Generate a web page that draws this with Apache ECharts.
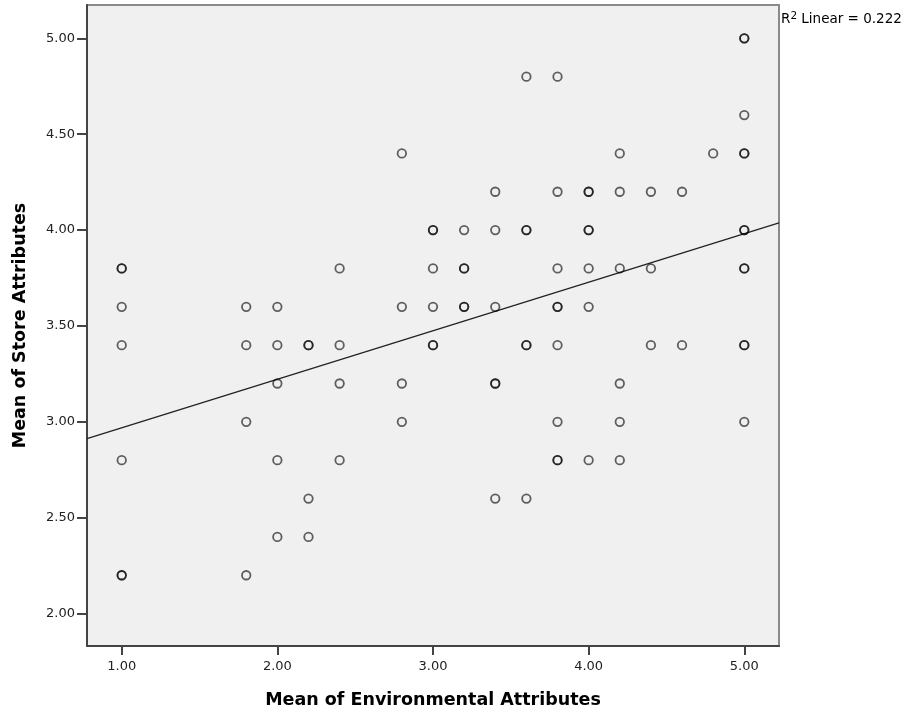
<!DOCTYPE html>
<html>
<head>
<meta charset="utf-8">
<script src="https://cdn.jsdelivr.net/npm/echarts@6/dist/echarts.min.js"></script>
<style>html,body{margin:0;padding:0;background:#fff;}#c{width:908px;height:717px;}</style>
</head>
<body>
<div id="c"></div>
<script>
// Mean of Environmental Attributes (x) and Mean of Store Attributes (y); repeated pairs are overlapping cases
const envMean = [
  1.0,1.0,1.0,1.0,1.0,1.0,1.0,
  1.8,1.8,1.8,1.8,
  2.0,2.0,2.0,2.0,2.0,
  2.2,2.2,2.2,2.2,
  2.4,2.4,2.4,2.4,
  2.8,2.8,2.8,2.8,
  3.0,3.0,3.0,3.0,3.0,3.0,
  3.2,3.2,3.2,3.2,3.2,
  3.4,3.4,3.4,3.4,3.4,3.4,
  3.6,3.6,3.6,3.6,3.6,3.6,
  3.8,3.8,3.8,3.8,3.8,3.8,3.8,3.8,3.8,
  4.0,4.0,4.0,4.0,4.0,4.0,4.0,
  4.2,4.2,4.2,4.2,4.2,4.2,
  4.4,4.4,4.4,
  4.6,4.6,
  4.8,
  5.0,5.0,5.0,5.0,5.0,5.0,5.0,5.0,5.0,5.0,5.0,5.0
];
const storeMean = [
  3.8,3.8,3.6,3.4,2.8,2.2,2.2,
  3.6,3.4,3.0,2.2,
  3.6,3.4,3.2,2.8,2.4,
  3.4,3.4,2.6,2.4,
  3.8,3.4,3.2,2.8,
  4.4,3.6,3.2,3.0,
  4.0,4.0,3.8,3.6,3.4,3.4,
  4.0,3.8,3.8,3.6,3.6,
  4.2,4.0,3.6,3.2,3.2,2.6,
  4.8,4.0,4.0,3.4,3.4,2.6,
  4.8,4.2,3.8,3.6,3.6,3.4,3.0,2.8,2.8,
  4.2,4.2,4.0,4.0,3.8,3.6,2.8,
  4.4,4.2,3.8,3.2,3.0,2.8,
  4.2,3.8,3.4,
  4.2,3.4,
  4.4,
  5.0,5.0,4.6,4.4,4.4,4.0,4.0,3.8,3.8,3.4,3.4,3.0
];
const xTicks = [1, 2, 3, 4, 5];
const yTicks = [2.0, 2.5, 3.0, 3.5, 4.0, 4.5, 5.0];
const xRange = [0.777, 5.223];
const yRange = [1.831, 5.174];
// Fitted linear regression
const fitIntercept = 2.716;
const fitSlope = 0.253;
const r2Label = '0.222';

const points = envMean.map((x, i) => [x, storeMean[i]]);
const fitLine = xRange.map(x => [x, fitIntercept + fitSlope * x]);

const FONT = '"DejaVu Sans", Verdana, sans-serif';
const chart = echarts.init(document.getElementById('c'), null, {renderer: 'canvas'});
chart.setOption({
  animation: false,
  grid: {
    left: 87, top: 5, right: 129, bottom: 71,
    show: true, backgroundColor: '#f0f0f0',
    borderColor: '#8a8a8a', borderWidth: 2
  },
  xAxis: {
    type: 'value', min: xRange[0], max: xRange[1],
    name: 'Mean of Environmental Attributes',
    nameLocation: 'middle', nameGap: 45,
    nameTextStyle: {fontFamily: FONT, fontWeight: 'bold', fontSize: 17.5, color: '#000', verticalAlign: 'top'},
    axisLine: {show: true, onZero: false, lineStyle: {color: '#444', width: 2}},
    axisTick: {show: true, customValues: xTicks, length: 9, lineStyle: {color: '#444', width: 2}},
    axisLabel: {customValues: xTicks, margin: 14, fontFamily: FONT, fontSize: 13, color: '#222',
      formatter: v => Number(v).toFixed(2)},
    splitLine: {show: false}
  },
  yAxis: {
    type: 'value', min: yRange[0], max: yRange[1],
    name: 'Mean of Store Attributes',
    nameLocation: 'middle', nameGap: 58,
    nameTextStyle: {fontFamily: FONT, fontWeight: 'bold', fontSize: 17.5, color: '#000'},
    axisLine: {show: true, onZero: false, lineStyle: {color: '#444', width: 2}},
    axisTick: {show: true, customValues: yTicks, length: 10, lineStyle: {color: '#444', width: 2}},
    axisLabel: {customValues: yTicks, margin: 12, fontFamily: FONT, fontSize: 13, color: '#222',
      formatter: v => Number(v).toFixed(2)},
    splitLine: {show: false}
  },
  graphic: [{
    type: 'text', left: 781, top: 11, silent: true,
    style: {
      text: 'R{sup|2} Linear = ' + r2Label,
      font: '13.5px ' + FONT, fill: '#000',
      rich: {sup: {fontSize: 10.5, verticalAlign: 'top', padding: [0, 0, 5, 0], fontFamily: FONT, fill: '#000'}}
    }
  }],
  series: [
    {
      type: 'line', data: fitLine, symbol: 'none', silent: true, z: 3,
      lineStyle: {color: '#222', width: 1.3}
    },
    {
      type: 'scatter', data: points, symbol: 'circle', symbolSize: 8.5, z: 4,
      itemStyle: {color: 'rgba(0,0,0,0)', borderColor: 'rgba(0,0,0,0.76)', borderWidth: 1.8}
    }
  ]
});
</script>
</body>
</html>
